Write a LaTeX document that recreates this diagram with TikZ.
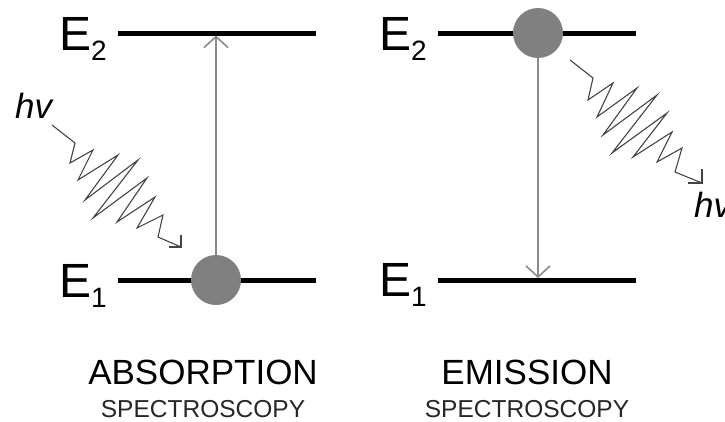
\documentclass[tikz,border=0pt]{standalone}
\usepackage{fontspec}
\setmainfont{Liberation Sans}
\usetikzlibrary{arrows.meta}
\newcommand\elevlabel[1]{{\fontsize{48}{48}\selectfont E}\kern0pt\raisebox{-10pt}{\fontsize{28}{28}\selectfont #1}}
\definecolor{dotgray}{HTML}{808080}
\definecolor{transgray}{HTML}{8A8A8A}
\definecolor{wavegray}{HTML}{444444}
\begin{document}
\begin{tikzpicture}[x=1pt,y=-1pt,
  level/.style={line width=5pt},
  trans/.style={draw=transgray, line width=2.2pt, -{Straight Barb[length=11pt,width=24pt,line width=1.6pt]}},
  dot/.style={circle, fill=dotgray, minimum size=50pt, inner sep=0pt},
  wave/.style={draw=wavegray, line width=1.1pt, line join=miter},
  lbl/.style={anchor=base west, inner sep=0pt},
  title/.style={anchor=base, inner sep=0pt, text depth=0pt, font=\fontsize{35}{35}\selectfont},
  sub/.style={anchor=base, inner sep=0pt, text depth=0pt, font=\fontsize{24.5}{24.5}\selectfont, text=black!85},
  hvl/.style={anchor=base west, inner sep=0pt, font=\fontsize{35}{35}\selectfont\itshape}]
\useasboundingbox (0,0) rectangle (725,421);
\clip (0,0) rectangle (725,421);

% ---------- Absorption ----------
\coordinate (a2l) at (118,33);
\coordinate (a2r) at (316,33);
\coordinate (a1l) at (118,280);
\coordinate (a1r) at (316,280);
\draw[level] (a2l) -- (a2r);
\draw[level] (a1l) -- (a1r);
\node[lbl] (aE2) at (59,50) {\elevlabel{2}};
\node[lbl] (aE1) at (59,297) {\elevlabel{1}};
\node[dot] (c1) at (216,280) {};
\coordinate (t1) at (216,35.5);
\draw[trans] (c1.north) -- (t1);
\node[hvl] (hva) at (15,118) {hv};
\coordinate (wa) at (52,125);
\coordinate (wae) at (181,247);
\draw[wave] (wa) -- (75,143) -- (70,163) -- (93,150) -- (78,180) -- (118,155) -- (85,200) -- (138,160) -- (93,218) -- (147,178) -- (117,222) -- (155,197) -- (137,228) -- (163,215) -- (158,237) -- (wae);
\draw[wave] ([xshift=-12pt]wae) -- (wae) -- ([yshift=12pt]wae);
\node[title] (abs) at (203,384) {ABSORPTION};
\node[sub] (abss) at (203,417) {SPECTROSCOPY};

% ---------- Emission ----------
\coordinate (e2l) at (438,33);
\coordinate (e2r) at (636,33);
\coordinate (e1l) at (438,280);
\coordinate (e1r) at (636,280);
\draw[level] (e2l) -- (e2r);
\draw[level] (e1l) -- (e1r);
\node[lbl] (eE2) at (379,50) {\elevlabel{2}};
\node[lbl] (eE1) at (379,296) {\elevlabel{1}};
\node[dot] (c2) at (538,33) {};
\coordinate (t2) at (538,278);
\draw[trans] (c2.south) -- (t2);
\coordinate (we) at (570,60);
\coordinate (wee) at (702,183);
\draw[wave] (we) -- (593,78) -- (588,100) -- (613,83) -- (597,117) -- (637,88) -- (603,135) -- (657,95) -- (612,153) -- (667,113) -- (633,157) -- (672,132) -- (657,162) -- (682,148) -- (675,172) -- (wee);
\draw[wave] ([xshift=-14pt]wee) -- (wee) -- ([yshift=14pt]wee);
\node[hvl] (hve) at (694,217) {hv};
\node[title] (emi) at (527,384) {EMISSION};
\node[sub] (emis) at (527,417) {SPECTROSCOPY};
\end{tikzpicture}
\end{document}
